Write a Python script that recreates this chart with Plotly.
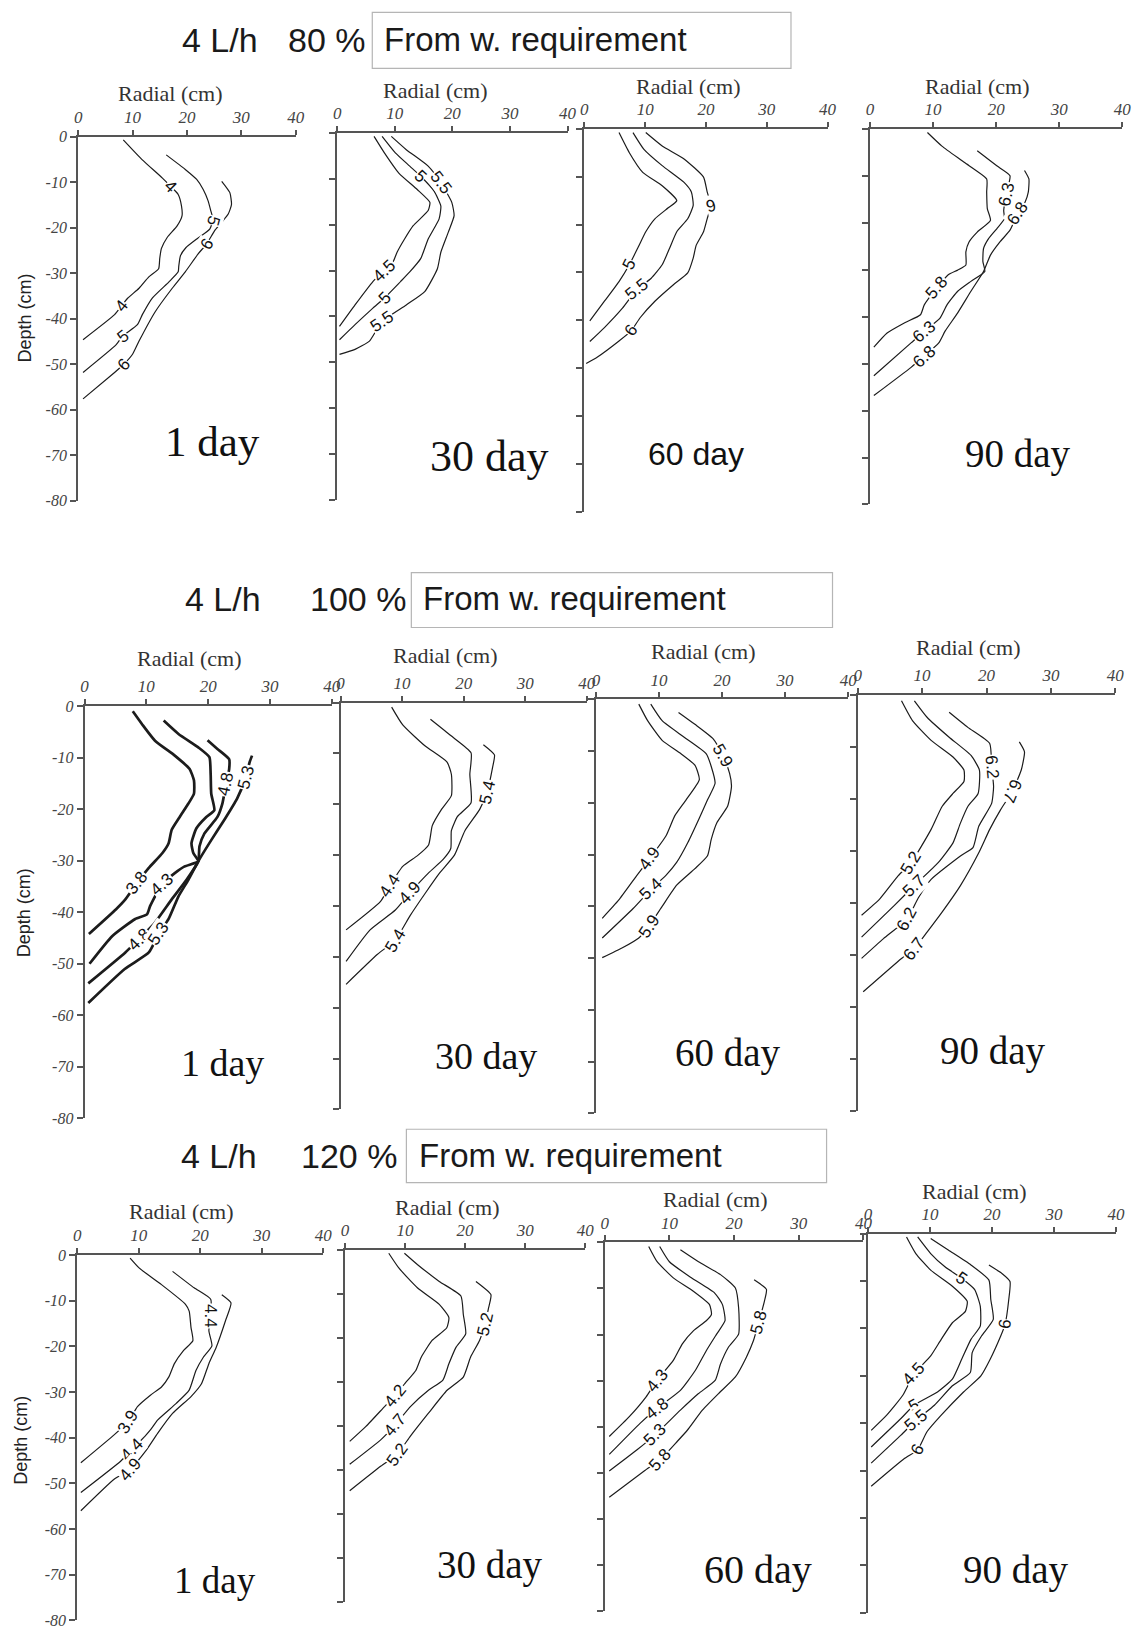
import math
import plotly.graph_objects as go

W, H = 1148, 1638

# ---------------- text / tick data ----------------
X_TICK_VALS = [0, 10, 20, 30, 40]
X_TICK_TEXT = ["0", "10", "20", "30", "40"]
Y_TICK_VALS = [0, -10, -20, -30, -40, -50, -60, -70, -80]
Y_TICK_TEXT = ["0", "-10", "-20", "-30", "-40", "-50", "-60", "-70", "-80"]

ROW_RATE = ["4 L/h", "4 L/h", "4 L/h"]
ROW_PERCENT = ["80 %", "100 %", "120 %"]
BOX_TEXT = "From w. requirement"
DAY_TEXT = ["1 day", "30 day", "60 day", "90 day"]
X_TITLE = "Radial (cm)"
Y_TITLE = "Depth (cm)"

# ---------------- contour data (radial cm, depth cm) ----------------
# Row 1 : 80 %
P1_LINES = {
    "4": [(8.3, -0.7), (11.8, -5.1), (15.5, -9.1), (17, -10.9), (18.4, -12.7), (19, -15.2), (19.1, -17.4),
          (18.2, -19.6), (16.4, -22.1), (15.3, -24.6), (15, -26.8), (14.8, -29), (13, -30.8), (11.2, -33.3),
          (9.1, -35.5), (7.9, -37.3), (6.7, -39.1), (0.9, -44.6)],
    "5": [(16.2, -4), (19.7, -7.2), (21.8, -9.4), (23, -11.6), (23.9, -14.1), (24.4, -16.3), (24.8, -18.3),
          (24.2, -20.3), (22, -22.3), (19.8, -24.4), (18.8, -26.2), (18.5, -28.5), (18.4, -29.7), (16.7, -31.9),
          (13.6, -35.5), (11.8, -39.1), (10.9, -41.3), (8.2, -43.8), (7, -45.7), (0.9, -51.8)],
    "6": [(26.4, -9.8), (27.9, -12.3), (28.2, -14.9), (27.6, -17), (26.4, -18.8), (25.2, -20.5), (23.6, -23.6),
          (22.1, -25.7), (19.7, -29.7), (17.3, -33.3), (14.2, -38.4), (11.2, -44.9), (10, -47.8), (8.4, -50),
          (6.7, -51.8), (0.9, -57.6)],
}
P1_LABELS = [("4", 17, -10.9), ("4", 7.9, -37.3), ("5", 24.8, -18.3), ("5", 8.2, -43.8),
             ("6", 23.6, -23.6), ("6", 8.4, -50)]

P2_LINES = {
    "4.5": [(6.4, -0.7), (8.2, -4.3), (10.7, -8.7), (13.9, -12.3), (16.1, -15.1), (15.8, -16.9), (13.2, -20.2),
            (11.7, -23.1), (10.4, -26), (9.7, -28.1), (8.2, -29.9), (6.2, -32.4), (3.1, -37.5), (0.4, -42.2)],
    "5": [(7.8, -0.7), (10.1, -4.3), (12.6, -7.2), (14.5, -9.4), (16.8, -12.6), (18, -15.9), (17.7, -18.7),
          (15.8, -23.1), (14.5, -27.4), (12.6, -30.3), (11, -32.4), (8.2, -36), (6.2, -38.2), (3.1, -41.8),
          (0.4, -45.1)],
    "5.5": [(9.4, -0.7), (12, -3.6), (15.8, -7.2), (18, -10.8), (19.9, -15.1), (20.3, -18), (19.3, -21.6),
            (18, -26), (17.4, -29.6), (15.2, -34.6), (12, -37.5), (7.8, -41.1), (5.6, -45.4), (3.1, -47.2),
            (0.4, -48.3)],
}
P2_LABELS = [("4.5", 8.2, -29.9), ("5", 14.5, -9.4), ("5", 8.2, -36), ("5.5", 18, -10.8), ("5.5", 7.8, -41.1)]

P3_LINES = {
    "5": [(5.7, -0.8), (7.4, -5), (9.6, -9.1), (12.8, -11.9), (15.2, -15), (13.8, -16.5), (11.6, -18.8),
          (10.1, -21.5), (8.9, -24.6), (7.4, -28.4), (5.7, -31.9), (3.3, -36), (0.9, -40.1)],
    "5.5": [(8, -0.8), (9.8, -4.3), (12.8, -7.7), (16.4, -11.2), (17.6, -13.2), (17.9, -16), (17, -18.8),
            (15.2, -21.5), (14, -25), (12.8, -28.4), (11, -31.2), (8.6, -33.6), (6.3, -37.4), (3.3, -41.5),
            (0.9, -44.4)],
    "6": [(10.1, -0.8), (12.8, -3.6), (16.4, -6.3), (19.6, -10.1), (20.2, -13.2), (20.8, -16), (20.2, -18.8),
          (19.6, -21.5), (18.4, -24.3), (17.9, -27), (17, -30.1), (14.6, -32.6), (11.6, -36), (9.2, -39.4),
          (7.7, -42.2), (5.7, -44.3), (2.1, -47.7), (0.3, -49)],
}
P3_LABELS = [("5", 7.4, -28.4), ("5.5", 8.6, -33.6), ("6", 20.8, -16), ("6", 7.7, -42.2)]

P4_LINES = {
    "5.8": [(9.1, -0.8), (11.4, -3.7), (15, -7.2), (18.5, -10.7), (18.5, -13.5), (18.6, -17), (19.1, -19.5),
            (17, -22), (15.7, -24.1), (15.2, -26.2), (15.2, -29), (13.9, -30.1), (12.4, -31.1), (10.6, -33.9),
            (8.6, -37.5), (8, -39.6), (5.5, -41.3), (2.7, -43.5), (0.6, -46.5)],
    "6.3": [(17, -4.7), (20.1, -7.9), (22.2, -10), (21.6, -13.9), (21.2, -17.4), (21.3, -19.2), (20.1, -21.3),
            (18.8, -23.4), (18, -25.5), (17.9, -28.3), (18.2, -30.4), (16, -32.5), (13.9, -34.6), (12.2, -37.5),
            (11.1, -40.3), (8.6, -43.1), (6.5, -45.6), (0.6, -52.6)],
    "6.8": [(24.5, -8.9), (25.2, -10.7), (25.1, -13.5), (24.6, -15.6), (23.4, -18.1), (22.2, -21.6),
            (20.6, -24.1), (19.1, -26.9), (18, -30.4), (16, -34.6), (13.9, -39.2), (11.9, -43.1), (10.9, -45.6),
            (8.6, -48.4), (6.5, -50.8), (0.6, -56.8)],
}
P4_LABELS = [("6.3", 21.6, -13.9), ("6.8", 23.4, -18.1), ("5.8", 10.6, -33.9), ("6.3", 8.6, -43.1),
             ("6.8", 8.6, -48.4)]

# Row 2 : 100 %
P5_LINES = {
    "3.8": [(7.8, -1), (9.3, -3.5), (11.4, -6.7), (14.6, -9.6), (17, -12.2), (17.7, -14.4), (17.7, -17),
            (16.8, -18.9), (15.4, -21.5), (14.1, -24), (13.6, -26.6), (12.6, -28.5), (10.4, -31.4),
            (8.5, -34.3), (6.6, -37.5), (5.1, -39.4), (0.7, -44.2)],
    "4.3": [(12.8, -2.8), (15.2, -5.4), (18.4, -8), (20.2, -9.9), (20.4, -13.1), (20.5, -17), (21, -20.2),
            (19.7, -21.5), (18.1, -23.7), (17.3, -26.6), (17.6, -28.5), (18.4, -30.1), (16.2, -31.1),
            (14.6, -32.4), (12.5, -34.6), (10.6, -38.8), (10.1, -40.4), (8.2, -41.3), (4.5, -44.6),
            (0.8, -50)],
    "4.8": [(19.9, -6.6), (21.5, -8.3), (23.4, -10.3), (23.4, -12.2), (22.9, -15.1), (22.3, -18.9),
            (21.5, -21.5), (19.4, -24.7), (18.6, -27.2), (18.4, -30.1), (16.5, -33.7), (14.1, -37.5),
            (11.2, -42.3), (8.8, -45.2), (6.6, -47.8), (0.6, -53.8)],
    "5.3": [(27.1, -9.6), (26.7, -10.9), (26.1, -13.8), (24.7, -17.9), (22.6, -22.1), (20.5, -26),
            (18.4, -30.1), (16.8, -33.7), (15.2, -36.9), (13.6, -41.3), (12, -44.2), (10.4, -47.8),
            (6.5, -51), (0.6, -57.6)],
}
P5_LABELS = [("3.8", 8.5, -34.3), ("4.3", 12.5, -34.6), ("4.8", 22.9, -15.1), ("4.8", 8.8, -45.2),
             ("5.3", 26.1, -13.8), ("5.3", 12, -44.2)]

P6_LINES = {
    "4.4": [(8.3, -0.9), (10.1, -4.4), (13.7, -8.5), (17.3, -11.7), (18, -14.1), (18, -18.3), (16.4, -21),
            (14.9, -24.2), (14.3, -28), (12.5, -30.1), (10.1, -32.2), (8, -36), (6.5, -39.1), (0.9, -44.7)],
    "4.9": [(14.6, -3.3), (17.9, -6.5), (21.2, -9.9), (21, -14.1), (21.2, -19.7), (19, -22.4), (18, -25.2),
            (17.9, -28.7), (16.7, -30.8), (14.3, -33.5), (11.3, -37.4), (8.9, -40.8), (4.8, -44.7),
            (0.9, -50.9)],
    "5.4": [(23.2, -8.3), (25, -10.3), (24.7, -12.7), (23.8, -17.6), (22.6, -21), (20.2, -25.2), (18.5, -30),
            (16.1, -33.5), (13.7, -37.6), (11.3, -41.9), (8.9, -46.7), (6, -49.5), (0.9, -55.4)],
}
P6_LABELS = [("4.4", 8, -36), ("4.9", 11.3, -37.4), ("5.4", 23.8, -17.6), ("5.4", 8.9, -46.7)]

P7_LINES = {
    "4.9": [(6.8, -0.9), (8.2, -4.1), (10.5, -7.9), (13.4, -10.4), (15.7, -12.7), (16.4, -15.5),
            (14.3, -19.4), (12.5, -22.5), (11.1, -26.4), (8.5, -30.8), (6.5, -34), (3.6, -38.8), (1, -42.3)],
    "5.4": [(8.7, -0.9), (10.5, -4.1), (14, -7.3), (17.5, -10.5), (18.3, -13), (18.9, -16.2), (17.7, -19.4),
            (16.3, -23.2), (14.6, -27.6), (12.8, -31.5), (11.1, -34), (8.8, -36.6), (5.9, -40.4), (1, -46.1)],
    "5.9": [(13.1, -2.5), (15.7, -4.8), (18.6, -7.6), (20.1, -10.8), (21.2, -14.3), (21.5, -16.8),
            (20.9, -20.6), (19.2, -23.8), (18.3, -27), (17.7, -30.2), (15.7, -32.7), (12.8, -35.9),
            (10.5, -40), (8.4, -43.8), (6.8, -46.1), (4.2, -48), (1, -49.9)],
}
P7_LABELS = [("4.9", 8.5, -30.8), ("5.4", 8.8, -36.6), ("5.9", 20.1, -10.8), ("5.9", 8.4, -43.8)]

P8_LINES = {
    "5.2": [(6.8, -1.1), (8.5, -4.9), (11.4, -8.7), (14.8, -11.9), (16.5, -14.4), (16.5, -16.6),
            (14.8, -18.9), (13.1, -21.4), (11.4, -25.8), (8.3, -32.2), (6.3, -34.7), (3.4, -39.2),
            (0.6, -42.3)],
    "5.7": [(8.8, -1.1), (10.8, -4.3), (14.2, -8.1), (17.6, -11.6), (18.9, -14.4), (18.7, -18.9),
            (17.1, -21.4), (15.95, -24.6), (14.8, -28.4), (12.5, -32.2), (8.8, -36.6), (5.7, -40.4),
            (0.6, -46.5)],
    "6.2": [(14.2, -3.3), (17.1, -6.2), (20.5, -9.3), (20.8, -13.8), (21.1, -17.6), (20.8, -20.8),
            (18.8, -25.2), (17.9, -29.3), (15.95, -30.9), (11.4, -35.4), (9.4, -39), (7.7, -43), (4, -46.8),
            (0.6, -50.6)],
    "6.7": [(25.1, -9), (25.9, -10.9), (25.4, -14.4), (24, -18.5), (22.2, -22), (20.5, -25.8), (18.8, -30.3),
            (15.95, -36.6), (13.1, -41.7), (10.8, -45.5), (8.8, -48.7), (6.8, -50.6), (0.85, -57)],
}
P8_LABELS = [("5.2", 8.3, -32.2), ("5.7", 8.8, -36.6), ("6.2", 20.8, -13.8), ("6.2", 7.7, -43),
             ("6.7", 24, -18.5), ("6.7", 8.8, -48.7)]

# Row 3 : 120 %
P9_LINES = {
    "3.9": [(8.6, -0.7), (10.1, -2.9), (13.7, -6.5), (17.6, -10.8), (18.2, -12.3), (18.5, -15.9),
            (18.8, -18.8), (17.3, -20.9), (15.8, -23.8), (14.9, -26.7), (13.7, -28.9), (11.9, -30.7),
            (9.8, -33.2), (8.3, -36.5), (6, -39.4), (0.6, -45.5)],
    "4.4": [(15.5, -3.6), (19, -7.2), (21.7, -9.7), (21.7, -13.3), (21.4, -16.6), (21.9, -19.9),
            (20.5, -22.4), (19.3, -25.3), (18.2, -29.6), (16.1, -32.5), (13.1, -36.1), (11.9, -38.3),
            (11, -39.7), (8.9, -42.6), (7.1, -45.1), (0.6, -52)],
    "4.9": [(23.5, -8.7), (25, -10.5), (24.1, -14.4), (22.6, -20.2), (21.4, -23.8), (20.2, -28.2),
            (18.5, -31), (15.5, -34.7), (13.1, -39), (11.3, -42.6), (8.6, -46.9), (6, -49.1), (0.6, -56)],
}
P9_LABELS = [("3.9", 8.3, -36.5), ("4.4", 21.7, -13.3), ("4.4", 8.9, -42.6), ("4.9", 8.6, -46.9)]

P10_LINES = {
    "4.2": [(7.3, -0.8), (9, -4.2), (12.1, -8.7), (15.7, -12.4), (17.3, -15.4), (16.95, -17.7),
            (14.5, -20.6), (12.7, -24.4), (11.8, -27.4), (10.2, -30), (8.4, -33), (6.6, -35.6),
            (3.5, -40.1), (0.8, -43.5)],
    "4.7": [(9.9, -0.8), (12.1, -3.4), (15.7, -7.2), (19.3, -10.5), (19.7, -14.7), (20.1, -19.1),
            (18.5, -22.1), (17.3, -25.9), (16.3, -29.6), (13.9, -31.9), (10.9, -35.6), (8.4, -39.7),
            (6, -43.1), (0.8, -48.7)],
    "5.2": [(21.8, -7.2), (24.3, -10.2), (23.9, -13.2), (23.3, -16.9), (22.4, -20.6), (20.9, -24.4),
            (19.7, -28.9), (17, -31.9), (13.9, -37.1), (10.9, -42.3), (8.7, -46.4), (6, -49.1),
            (0.8, -54.7)],
}
P10_LABELS = [("4.2", 8.4, -33), ("4.7", 8.4, -39.7), ("5.2", 23.3, -16.9), ("5.2", 8.7, -46.4)]

P11_LINES = {
    "4.3": [(6.8, -0.9), (8.1, -4.2), (10.6, -7.7), (13.7, -10.6), (16.2, -13.5), (16.5, -15.6),
            (15.7, -17), (13.7, -19.2), (12, -22), (10.6, -25.6), (8.1, -29.9), (6.4, -33.5), (3.8, -37.8),
            (0.7, -42.1)],
    "4.8": [(8.5, -0.9), (10, -4.2), (13.4, -7.7), (17, -11), (18.2, -13.5), (18.6, -17), (17.3, -19.9),
            (15.7, -23.5), (14, -27.8), (11.7, -32.1), (8.1, -36), (5.5, -39.2), (0.7, -46)],
    "5.3": [(11.7, -1.6), (14.5, -4.2), (17.9, -7), (20.2, -9.9), (20.7, -14.2), (20.7, -19.9),
            (19.1, -22.8), (17.9, -26.4), (17.1, -29.9), (14.5, -32.8), (11.7, -36.4), (7.8, -41.7),
            (5, -45), (0.7, -49.6)],
    "5.8": [(23.1, -8.1), (25, -10.2), (24.7, -12.7), (23.8, -17.4), (23, -21.3), (21.9, -24.9),
            (20.2, -29.2), (17.6, -32.8), (15.1, -36.4), (12.8, -40.7), (11.2, -43.2), (8.6, -47.1),
            (6.1, -49.6), (0.7, -55.3)],
}
P11_LABELS = [("4.3", 8.1, -29.9), ("4.8", 8.1, -36), ("5.3", 7.8, -41.7), ("5.8", 23.8, -17.4),
              ("5.8", 8.6, -47.1)]

P12_LINES = {
    "4.5": [(6.2, -0.7), (7.7, -4.2), (10.1, -7.7), (13.6, -11.1), (16, -14.3), (15.7, -16.4),
            (13.6, -18.8), (11.8, -22.3), (10.1, -25.8), (7.4, -29.6), (5.6, -34.1), (3, -38.3),
            (0.5, -41.5)],
    "5": [(8, -0.7), (10.1, -4.2), (12.4, -7), (15.1, -9.4), (17.2, -11.8), (18.1, -15.3), (18.1, -19.5),
          (16.6, -22.3), (15.1, -26.5), (13.6, -30.7), (11.2, -33.4), (7.4, -36.2), (5.3, -39), (0.5, -45)],
    "5.5": [(10.1, -1), (13, -3.5), (16.6, -6.6), (19.5, -9.8), (19.8, -13.9), (20.2, -18.1), (18.3, -21.6),
            (16.8, -25.1), (16.5, -29.3), (13.6, -32.1), (10.7, -36.2), (7.7, -39.4), (5.3, -42.5),
            (0.5, -48.4)],
    "6": [(19.5, -6.6), (21.6, -8.4), (22.9, -10.1), (22.7, -13.9), (22.1, -19.2), (21.4, -21.6),
          (19.7, -26.5), (18.2, -30), (15.4, -33.4), (11.8, -38.3), (9.5, -41.8), (8, -45.6), (5.9, -47.4),
          (0.5, -53.3)],
}
P12_LABELS = [("4.5", 7.4, -29.6), ("5", 15.1, -9.4), ("5", 7.4, -36.2), ("5.5", 7.7, -39.4),
              ("6", 22.1, -19.2), ("6", 8, -45.6)]

PANEL_DATA = [
    (P1_LINES, P1_LABELS), (P2_LINES, P2_LABELS), (P3_LINES, P3_LABELS), (P4_LINES, P4_LABELS),
    (P5_LINES, P5_LABELS), (P6_LINES, P6_LABELS), (P7_LINES, P7_LABELS), (P8_LINES, P8_LABELS),
    (P9_LINES, P9_LABELS), (P10_LINES, P10_LABELS), (P11_LINES, P11_LABELS), (P12_LINES, P12_LABELS),
]

# ---------------- layout (pixel positions in the 1148x1638 page) ----------------
# (x at 0 cm, x at 40 cm, y at 0 cm, y at -80 cm)
PANEL_PX = [
    (75, 295, 130, 498), (337, 570, 126.5, 496.7), (587, 833, 122, 509.3), (876, 1131, 122, 501.7),
    (81.5, 331.5, 705.5, 1122), (340.4, 589.5, 701.8, 1113), (598.7, 853.8, 698.7, 1117),
    (863.5, 1124, 694.3, 1115),
    (74, 323, 1260, 1629.3), (344.8, 588, 1254.7, 1611), (607.6, 869.3, 1247.3, 1620),
    (874, 1124.7, 1238.5, 1621.7),
]
RADIAL_POS = [(168, 86), (436, 83), (692, 79), (984, 79),
              (187, 657), (446, 654), (707, 650), (975, 646),
              (179, 1216), (448, 1212), (719, 1204), (981, 1196)]
DAY_POS = [(211, 438), (491, 453), (700, 451), (1026, 451),
           (221, 1066), (488, 1059), (732, 1056), (1000, 1054),
           (213, 1589), (492, 1573), (763, 1578), (1024, 1578)]
DAY_SIZE = [43, 44, 32, 39, 38, 38, 39, 39, 37, 39, 40, 39]
SERIF = "Liberation Serif, Times New Roman, serif"
SANS = "Liberation Sans, Arial, sans-serif"
DAY_FONT = [SERIF, SERIF, SANS, SERIF] + [SERIF] * 8
LINE_W = [1.2, 1.2, 1.2, 1.2, 2.7, 1.2, 1.2, 1.2, 1.2, 1.2, 1.2, 1.2]
DEPTH_POS = [(21, 313), (20, 914), (17, 1447)]
TITLE_Y = [32, 597, 1160]
RATE_X = [178, 181, 177]
PCT_X = [285, 307, 298]
BOX = [(372.5, 796, 4.5, 61), (412, 838, 570.5, 626), (407, 832, 1133, 1187)]
BOX_TEXT_X = [382, 422, 418]
ANGLE_OVERRIDE = {(3, 2): 165, (8, 4): 112, (1, 2): 105}

LINE_COLOR = "#1c1c1c"
AXIS_COLOR = "#555555"


def px(xp):
    return xp / W


def py(yp):
    return 1 - yp / H


def label_angle(pts, lx, ly, sx, sy):
    best, best_d = None, 1e18
    for (x1, y1), (x2, y2) in zip(pts[:-1], pts[1:]):
        ax, ay = x1 * sx, -y1 * sy
        bx, by = x2 * sx, -y2 * sy
        cx, cy = lx * sx, -ly * sy
        vx, vy = bx - ax, by - ay
        L = vx * vx + vy * vy or 1e-9
        t = max(0.0, min(1.0, ((cx - ax) * vx + (cy - ay) * vy) / L))
        d = (ax + t * vx - cx) ** 2 + (ay + t * vy - cy) ** 2
        if d < best_d:
            best_d, best = d, (vx, vy)
    a = math.degrees(math.atan2(best[1], best[0]))
    while a > 90:
        a -= 180
    while a <= -90:
        a += 180
    return a


fig = go.Figure()
annotations = []
shapes = []
axes = {}

for i, (lines, labels) in enumerate(PANEL_DATA):
    n = i + 1
    xa = "x" if n == 1 else f"x{n}"
    ya = "y" if n == 1 else f"y{n}"
    x0, x40, y0, y80 = PANEL_PX[i]
    sx = (x40 - x0) / 40.0
    sy = (y80 - y0) / 80.0
    left = (i % 4 == 0)
    axes["xaxis" if n == 1 else f"xaxis{n}"] = dict(
        domain=[px(x0), px(x40)], range=[0, 40], anchor=ya, side="top",
        tickmode="array", tickvals=X_TICK_VALS, ticktext=X_TICK_TEXT,
        tickfont=dict(family=SERIF, size=17, style="italic", color="#444"),
        showline=True, linecolor=AXIS_COLOR, linewidth=2, ticks="outside", ticklen=5,
        tickwidth=1.5, tickcolor=AXIS_COLOR, showgrid=False, zeroline=False, fixedrange=True,
    )
    axes["yaxis" if n == 1 else f"yaxis{n}"] = dict(
        domain=[py(y80), py(y0)], range=[-80, 0], anchor=xa,
        tickmode="array", tickvals=Y_TICK_VALS, ticktext=Y_TICK_TEXT, showticklabels=left,
        tickfont=dict(family=SERIF, size=16, style="italic", color="#444"),
        showline=True, linecolor=AXIS_COLOR, linewidth=2, ticks="outside", ticklen=6,
        tickwidth=1.5, tickcolor=AXIS_COLOR, showgrid=False, zeroline=False, fixedrange=True,
    )
    for level, pts in lines.items():
        fig.add_trace(go.Scatter(
            x=[p[0] for p in pts], y=[p[1] for p in pts], xaxis=xa, yaxis=ya, mode="lines",
            line=dict(color=LINE_COLOR, width=LINE_W[i], shape="spline", smoothing=0.5),
            hoverinfo="skip", showlegend=False,
        ))
    for j, (txt, lx, ly) in enumerate(labels):
        ang = ANGLE_OVERRIDE.get((n, j), label_angle(lines[txt], lx, ly, sx, sy))
        annotations.append(dict(
            xref=xa, yref=ya, x=lx, y=ly, text=txt, showarrow=False, textangle=ang,
            font=dict(family=SANS, size=17, color="#111"), bgcolor="white", borderpad=0,
        ))
    rx, ry = RADIAL_POS[i]
    annotations.append(dict(xref="paper", yref="paper", x=px(rx), y=py(ry), text=X_TITLE,
                            showarrow=False, xanchor="center", yanchor="middle",
                            font=dict(family=SERIF, size=22, color="#333")))
    dx, dy = DAY_POS[i]
    annotations.append(dict(xref="paper", yref="paper", x=px(dx), y=py(dy), text=DAY_TEXT[i % 4],
                            showarrow=False, xanchor="center", yanchor="middle",
                            font=dict(family=DAY_FONT[i], size=DAY_SIZE[i], color="#111")))

for r in range(3):
    annotations.append(dict(xref="paper", yref="paper", x=px(RATE_X[r]), y=py(TITLE_Y[r]),
                            text=ROW_RATE[r], showarrow=False, xanchor="left", yanchor="middle",
                            font=dict(family=SANS, size=34, color="#1a1a1a")))
    annotations.append(dict(xref="paper", yref="paper", x=px(PCT_X[r]), y=py(TITLE_Y[r]),
                            text=ROW_PERCENT[r], showarrow=False, xanchor="left", yanchor="middle",
                            font=dict(family=SANS, size=34, color="#1a1a1a")))
    bx0, bx1, by0, by1 = BOX[r]
    shapes.append(dict(type="rect", xref="paper", yref="paper", x0=px(bx0), x1=px(bx1),
                       y0=py(by1), y1=py(by0), line=dict(color="#b5b5b5", width=1.2),
                       fillcolor="rgba(0,0,0,0)"))
    annotations.append(dict(xref="paper", yref="paper", x=px(BOX_TEXT_X[r]), y=py(TITLE_Y[r]),
                            text=BOX_TEXT, showarrow=False, xanchor="left", yanchor="middle",
                            font=dict(family=SANS, size=33, color="#1a1a1a")))
    ddx, ddy = DEPTH_POS[r]
    annotations.append(dict(xref="paper", yref="paper", x=px(ddx), y=py(ddy), text=Y_TITLE,
                            showarrow=False, textangle=-90, xanchor="center", yanchor="middle",
                            font=dict(family=SANS, size=18, color="#222")))

fig.update_layout(
    width=W, height=H, autosize=False,
    margin=dict(l=0, r=0, t=0, b=0),
    paper_bgcolor="white", plot_bgcolor="white",
    showlegend=False, annotations=annotations, shapes=shapes, **axes,
)

fig.write_html("out.html", config={"displayModeBar": False},
               post_script="document.body.style.margin='0';")
